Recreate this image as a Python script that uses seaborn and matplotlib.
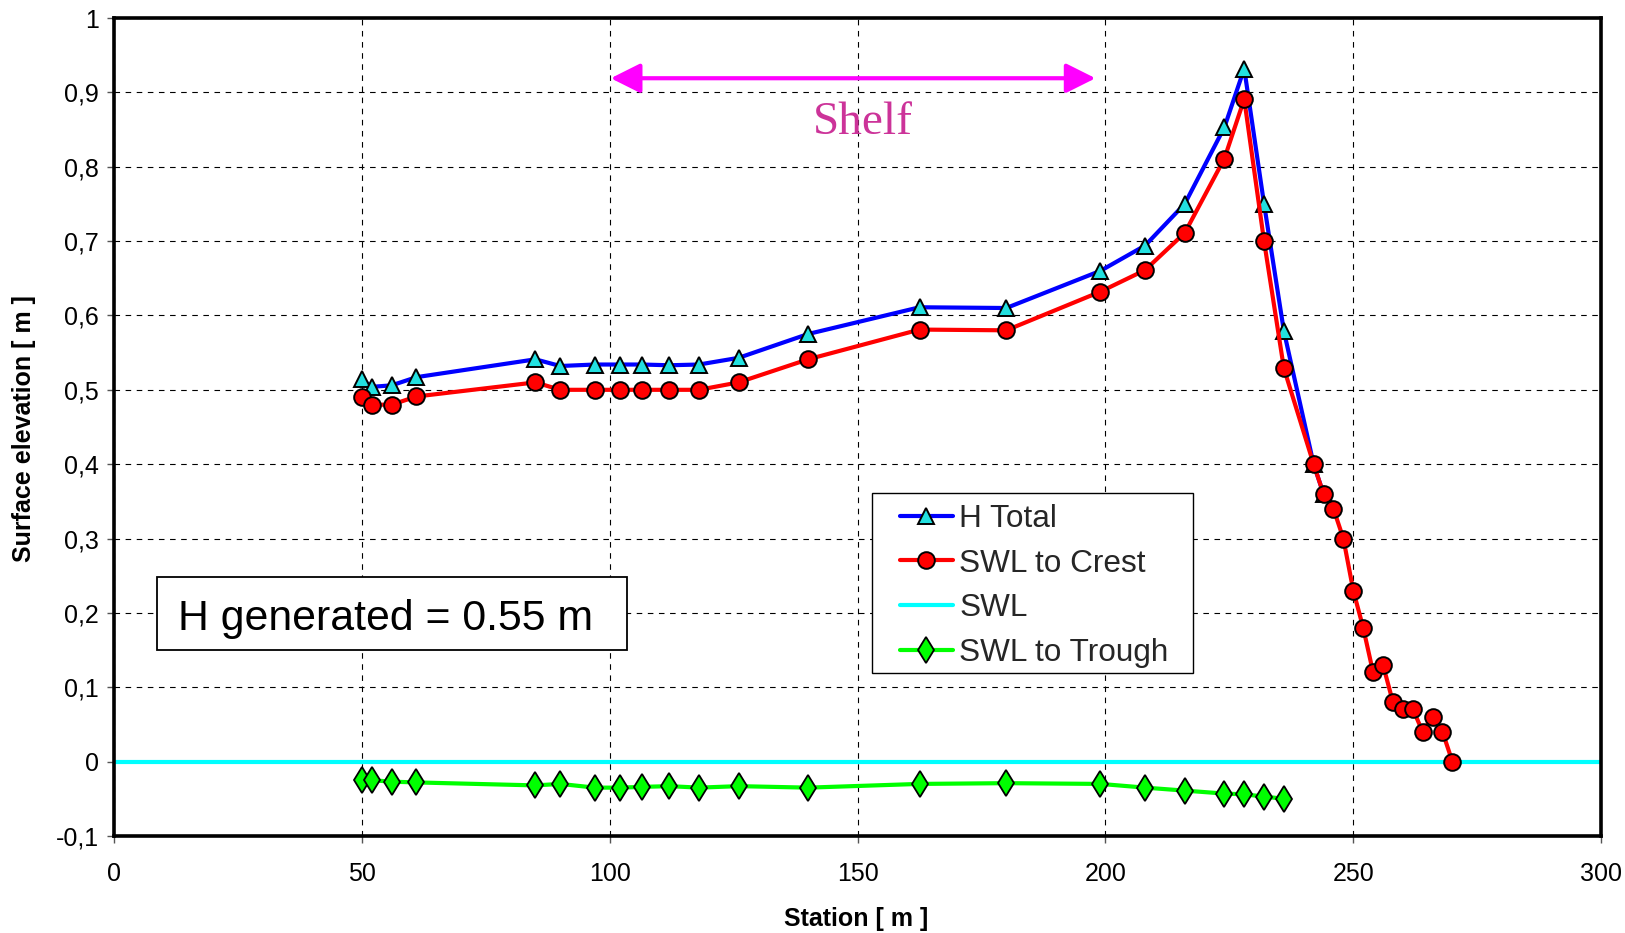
import matplotlib
matplotlib.use("Agg")
import matplotlib.pyplot as plt
from matplotlib.patches import Rectangle
import seaborn as sns
import pandas as pd

# ---------------- data ----------------
station_total = [50, 52, 56, 61, 85, 90, 97, 102, 106.5, 112, 118, 126, 140,
                 162.5, 180, 199, 208, 216, 224, 228, 232, 236, 242, 244]
h_total = [0.514, 0.504, 0.506, 0.517, 0.541, 0.532, 0.534, 0.534, 0.534, 0.533,
           0.534, 0.543, 0.575, 0.611, 0.610, 0.660, 0.694, 0.750, 0.853, 0.932,
           0.750, 0.579, 0.400, 0.360]

station_crest = [50, 52, 56, 61, 85, 90, 97, 102, 106.5, 112, 118, 126, 140,
                 162.5, 180, 199, 208, 216, 224, 228, 232, 236, 242, 244, 246,
                 248, 250, 252, 254, 256, 258, 260, 262, 264, 266, 268, 270]
swl_crest = [0.490, 0.480, 0.480, 0.491, 0.510, 0.500, 0.500, 0.500, 0.500, 0.500,
             0.500, 0.510, 0.541, 0.581, 0.580, 0.632, 0.661, 0.711, 0.811, 0.891,
             0.700, 0.529, 0.400, 0.360, 0.340, 0.300, 0.230, 0.180, 0.120, 0.130,
             0.080, 0.071, 0.071, 0.040, 0.060, 0.040, 0.000]

station_swl = [0, 300]
swl = [0.0, 0.0]

station_trough = [50, 52, 56, 61, 85, 90, 97, 102, 106.5, 112, 118, 126, 140,
                  162.5, 180, 199, 208, 216, 224, 228, 232, 236]
swl_trough = [-0.025, -0.025, -0.027, -0.028, -0.032, -0.030, -0.035, -0.035,
              -0.034, -0.033, -0.035, -0.033, -0.035, -0.030, -0.029, -0.030,
              -0.035, -0.039, -0.043, -0.044, -0.047, -0.050]

x_ticks = [0, 50, 100, 150, 200, 250, 300]
y_ticks = [-0.1, 0, 0.1, 0.2, 0.3, 0.4, 0.5, 0.6, 0.7, 0.8, 0.9, 1.0]
y_tick_labels = ["-0,1", "0", "0,1", "0,2", "0,3", "0,4", "0,5", "0,6", "0,7",
                 "0,8", "0,9", "1"]

shelf_start, shelf_end, shelf_level = 100.2, 198.0, 0.919
note_text = "H generated = 0.55 m"

# ---------------- style ----------------
sns.set_theme(style="white")
plt.rcParams["font.family"] = ["Liberation Sans", "DejaVu Sans"]

fig = plt.figure(figsize=(16.25, 9.33), dpi=100)
ax = fig.add_axes([0.0702, 0.104, 0.9151, 0.8767])

df_total = pd.DataFrame({"Station": station_total, "Elev": h_total})
df_crest = pd.DataFrame({"Station": station_crest, "Elev": swl_crest})
df_swl = pd.DataFrame({"Station": station_swl, "Elev": swl})
df_trough = pd.DataFrame({"Station": station_trough, "Elev": swl_trough})

sns.lineplot(data=df_swl, x="Station", y="Elev", ax=ax, color="#00FFFF",
             linewidth=3, label="SWL", zorder=2)
sns.lineplot(data=df_trough, x="Station", y="Elev", ax=ax, color="#00FF00",
             linewidth=3, marker="d", markersize=13, markerfacecolor="#00FF00",
             markeredgecolor="black", markeredgewidth=1.3, label="SWL to Trough",
             zorder=3)
sns.lineplot(data=df_total, x="Station", y="Elev", ax=ax, color="#0000FF",
             linewidth=3, marker="^", markersize=11.5, markerfacecolor="#22E0E0",
             markeredgecolor="black", markeredgewidth=1.4, label="H Total",
             zorder=4)
sns.lineplot(data=df_crest, x="Station", y="Elev", ax=ax, color="#FF0000",
             linewidth=3, marker="o", markersize=12, markerfacecolor="#FF0000",
             markeredgecolor="black", markeredgewidth=1.4, label="SWL to Crest",
             zorder=5)

ax.set_xlim(0, 300)
ax.set_ylim(-0.1, 1.0)
ax.set_xticks(x_ticks)
ax.set_xticklabels([str(v) for v in x_ticks])
ax.set_yticks(y_ticks)
ax.set_yticklabels(y_tick_labels)
ax.tick_params(axis="both", which="major", direction="out", length=5, width=1,
               color="#555555", labelsize=18, pad=6, labelcolor="black",
               left=True, bottom=True)
ax.tick_params(axis="x", pad=14)

ax.grid(True, color="black", linestyle=(0, (5, 5)), linewidth=0.8)
for s in ax.spines.values():
    s.set_visible(True)
    s.set_color("black")
    s.set_linewidth(2.6)
    s.set_zorder(6)

ax.set_xlabel("Station [ m ]", fontsize=18, fontweight="bold", color="black")
ax.set_ylabel("Surface elevation [ m ]", fontsize=18, fontweight="bold", color="black")
ax.xaxis.set_label_coords(0.499, -0.0874)
ax.yaxis.set_label_coords(-0.0525, 0.4976)

# Legend (reordered) with separate frame
handles, labels = ax.get_legend_handles_labels()
order = ["H Total", "SWL to Crest", "SWL", "SWL to Trough"]
hmap = dict(zip(labels, handles))
leg = ax.legend([hmap[k] for k in order], order, loc="upper left",
                bbox_to_anchor=(0.5286, 0.4062), frameon=False, fontsize=22.7,
                borderpad=0, borderaxespad=0, handlelength=1.67,
                handletextpad=0.2, labelspacing=0.47)
leg.set_zorder(8)
ax.add_patch(Rectangle((0.5095, 0.1998), 0.2161, 0.2192, transform=ax.transAxes,
                       facecolor="white", edgecolor="black", linewidth=1.0,
                       zorder=7))

# Note box
ax.add_patch(Rectangle((0.0289, 0.2274), 0.316, 0.0892, transform=ax.transAxes,
                       facecolor="white", edgecolor="black", linewidth=1.3,
                       zorder=7))
ax.text(0.1826, 0.2518, note_text, transform=ax.transAxes, fontsize=30.8,
        ha="center", va="baseline", color="black", zorder=8)

# Shelf arrow and label
ax.annotate("", xy=(shelf_end, shelf_level), xytext=(shelf_start, shelf_level),
            arrowprops=dict(arrowstyle="<|-|>,head_length=1.8,head_width=0.9",
                            color="#FF00FF", lw=3, shrinkA=0, shrinkB=0,
                            mutation_scale=10), zorder=6)
ax.text(151.1, 0.8445, "Shelf", fontsize=34, color="#CC3399", ha="center",
        va="baseline", family=["Liberation Serif", "DejaVu Serif"], zorder=6)

fig.savefig("out.png", dpi=100, facecolor="white")
